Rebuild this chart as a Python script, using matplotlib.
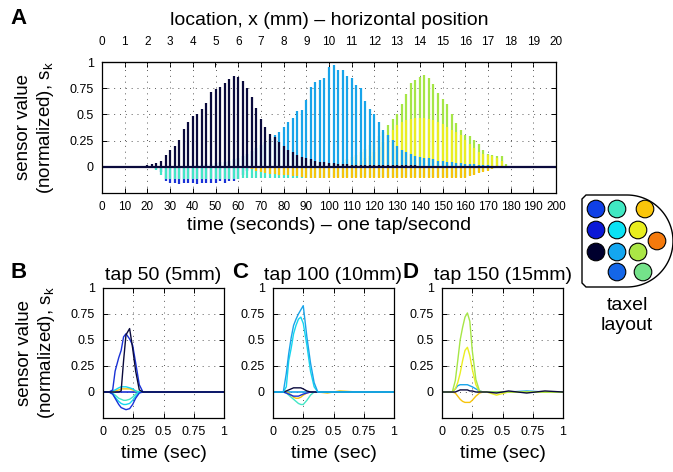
import numpy as np
import matplotlib
matplotlib.use("Agg")
import matplotlib.pyplot as plt
from matplotlib.patches import Circle, Polygon

plt.rcParams['font.family'] = ['Liberation Sans', 'DejaVu Sans']
plt.rcParams['mathtext.fontset'] = 'custom'
plt.rcParams['mathtext.rm'] = 'Liberation Sans'
plt.rcParams['mathtext.it'] = 'Liberation Sans'

# ---------------- data: panel A (peak value of each tap, every 2nd tap) ----------------
tap_times = np.arange(0, 200, 2)

navy_peak = ([0.01] * 10 +
             [0.02, 0.03, 0.04, 0.06, 0.11, 0.16, 0.20, 0.26, 0.36, 0.43,
              0.48, 0.50, 0.55, 0.61, 0.71, 0.74, 0.76, 0.80, 0.84, 0.87] +
             [0.86, 0.82, 0.75, 0.67, 0.56, 0.46, 0.38, 0.31, 0.28, 0.24,
              0.20, 0.16, 0.14, 0.11, 0.09, 0.08, 0.07, 0.06, 0.05, 0.05] +
             [0.04, 0.04, 0.03, 0.03, 0.03] + [0.02] * 15 +
             [0.01] * 30)

lightblue_peak = ([0.01] * 20 +
                  [0.01, 0.02, 0.02, 0.03, 0.03, 0.04, 0.05, 0.05, 0.06, 0.07,
                   0.08, 0.10, 0.12, 0.15, 0.18, 0.21, 0.24, 0.27, 0.30, 0.33] +
                  [0.38, 0.43, 0.47, 0.53, 0.54, 0.64, 0.76, 0.81, 0.83, 0.85,
                   0.95, 0.97, 0.92, 0.92, 0.87, 0.85, 0.78, 0.75, 0.63, 0.55] +
                  [0.50, 0.43, 0.35, 0.30, 0.26, 0.20, 0.16, 0.14, 0.12, 0.10,
                   0.09, 0.08, 0.08, 0.07, 0.06, 0.06, 0.05, 0.05, 0.04, 0.04] +
                  [0.03, 0.03, 0.03, 0.02, 0.02, 0.02] + [0.01] * 14)

green_peak = ([0.0] * 30 + [0.01] * 20 +
              [0.02, 0.03, 0.04, 0.05, 0.07, 0.09, 0.11, 0.14, 0.17, 0.21,
               0.25, 0.29, 0.33, 0.40, 0.46, 0.50, 0.60, 0.69, 0.80, 0.83] +
              [0.86, 0.88, 0.85, 0.79, 0.70, 0.65, 0.60, 0.50, 0.42, 0.35,
               0.30, 0.29, 0.26, 0.22, 0.16, 0.12, 0.11, 0.10, 0.10, 0.03] +
              [0.01] * 10)

yellow_peak = ([0.0] * 35 + [0.01] * 20 +
               [0.02, 0.04, 0.06, 0.08, 0.10, 0.14, 0.19, 0.24, 0.30, 0.35,
                0.40, 0.43, 0.45, 0.46, 0.47, 0.47, 0.47, 0.46, 0.45, 0.43] +
               [0.41, 0.38, 0.35, 0.33, 0.30, 0.26, 0.22, 0.18, 0.14, 0.12,
                0.11, 0.10, 0.08, 0.06] + [0.01] * 11)

blue_neg = ([0.0] * 12 +
            [-0.02, -0.05, -0.14, -0.15, -0.15, -0.16, -0.15, -0.15, -0.15, -0.16, -0.15,
             -0.15, -0.15, -0.15, -0.14, -0.15, -0.14, -0.14, -0.12, -0.08, -0.04, -0.02] +
            [0.0] * 66)

turq_neg = ([0.0] * 11 + [-0.01, -0.03, -0.08, -0.12] + [-0.12] * 16 +
            [-0.11] * 19 + [-0.10] * 31 +
            [-0.08, -0.07, -0.05, -0.04, -0.03, -0.02] + [0.0] * 13)

gold_neg = ([0.0] * 32 +
            [-0.01, -0.02, -0.04, -0.05, -0.06, -0.07, -0.07, -0.08, -0.08, -0.08,
             -0.09, -0.09, -0.10] + [-0.11] * 36 +
            [-0.09, -0.08, -0.06, -0.05, -0.04, -0.02, -0.01] + [0.0] * 12)

mm_ticks = list(range(0, 21))
time_ticks = list(range(0, 201, 10))
y_ticks = [0, 0.25, 0.5, 0.75, 1]
y_ticklabels = ['0', '0.25', '0.5', '0.75', '1']
small_x_ticklabels = ['0', '0.25', '0.5', '0.75', '1']

# ---------------- data: panels B, C, D (single tap responses) ----------------
b_time = [0, 0.05, 0.08, 0.10, 0.13, 0.15, 0.17, 0.19, 0.22, 0.245, 0.27, 0.30, 0.33,
          0.40, 0.50, 0.60, 0.70, 0.80, 0.90, 1.00]
b_navy = [0, 0, 0, 0, 0, 0.01, 0.30, 0.55, 0.61, 0.42, 0.20, 0.02, 0,
          0, 0, 0, 0, 0, 0, 0]
b_blue = [0, 0, 0.02, 0.20, 0.33, 0.40, 0.53, 0.56, 0.51, 0.45, 0.28, 0.07, 0,
          0, 0, 0, 0, 0, 0, 0]
b_blue_neg = [0, 0, -0.02, -0.06, -0.12, -0.15, -0.16, -0.17, -0.16, -0.12, -0.06, -0.01, 0,
              0, 0, 0, 0, 0, 0, 0]
b_cyan_neg = [0, 0, -0.02, -0.05, -0.09, -0.11, -0.12, -0.12, -0.11, -0.08, -0.04, 0, 0,
              0, 0, 0, 0, 0, 0, 0]
b_turq_neg = [0, 0, -0.01, -0.03, -0.06, -0.07, -0.08, -0.08, -0.07, -0.05, -0.02, 0, 0,
              0, 0, 0, 0, 0, 0, 0]
b_gold_pos = [0, 0, 0, 0.01, 0.02, 0.03, 0.03, 0.03, 0.03, 0.02, 0.01, 0, 0,
              0, 0, 0, 0, 0, 0, 0]
b_lightblue_pos = [0, 0, 0.01, 0.02, 0.04, 0.05, 0.05, 0.05, 0.04, 0.03, 0.01, 0, 0,
                   0, 0, 0, 0, 0, 0, 0]

cd_time = [0, 0.05, 0.085, 0.11, 0.13, 0.15, 0.17, 0.19, 0.21, 0.23, 0.25, 0.28, 0.31,
           0.34, 0.37, 0.45, 0.55, 0.70, 0.85, 1.00]
c_lightblue = [0, 0, 0, 0.18, 0.37, 0.52, 0.64, 0.70, 0.75, 0.79, 0.83, 0.53, 0.28,
               0.09, 0, 0, 0, 0, 0, 0]
c_cyan = [0, 0, 0, 0.05, 0.30, 0.42, 0.56, 0.64, 0.70, 0.72, 0.66, 0.45, 0.20,
          0.05, 0, 0, 0, 0, 0, 0]
c_turq_neg = [0, 0, 0, -0.01, -0.03, -0.05, -0.07, -0.09, -0.11, -0.12, -0.12, -0.08, -0.03,
              0, 0, 0, 0, 0, 0, 0]
c_navy = [0, 0, 0, 0.01, 0.02, 0.03, 0.04, 0.04, 0.04, 0.04, 0.03, 0.01, 0,
          0, 0, 0, 0, 0, 0, 0]
c_blue_neg = [0, 0, 0, -0.01, -0.02, -0.03, -0.04, -0.04, -0.04, -0.03, -0.02, -0.01, 0,
              0, 0, 0, 0, 0, 0, 0]
c_gold_neg = [0, 0, 0, 0, -0.01, -0.03, -0.05, -0.06, -0.06, -0.05, -0.03, -0.01, 0,
              0, 0, -0.01, 0.01, 0, 0, 0]

d_green = [0, 0, 0, 0.11, 0.30, 0.50, 0.62, 0.72, 0.76, 0.68, 0.40, 0.12, 0.01,
           0, 0, 0, 0, 0, 0, 0]
d_yellow = [0, 0, 0, 0.03, 0.09, 0.18, 0.30, 0.40, 0.43, 0.35, 0.22, 0.07, 0,
            0, 0, -0.03, 0, 0, 0, 0]
d_cyan = [0, 0, 0, 0.03, 0.06, 0.07, 0.07, 0.07, 0.07, 0.06, 0.05, 0.03, 0.01,
          0, 0, 0, 0, 0.01, 0, 0]
d_gold_neg = [0, 0, 0, -0.01, -0.04, -0.07, -0.09, -0.10, -0.10, -0.10, -0.08, -0.04, -0.01,
              0, 0, 0, 0, 0, 0, 0]
d_navy = [0, 0, 0, 0, 0.01, 0.02, 0.02, 0.02, 0.02, 0.01, 0.01, 0, 0,
          0, 0, -0.01, 0.01, -0.01, 0.01, 0]

# ---------------- colours ----------------
NAVY = '#0a0a3c'
LIGHTBLUE = '#18a4ea'
GREEN = '#a6e646'
YELLOW = '#eaee22'
BLUE = '#1a32d6'
TURQ = '#44e6c6'
CYAN = '#14d6ee'
GOLD = '#f6c40c'

W, H = 673, 472
fig = plt.figure(figsize=(W / 100, H / 100), dpi=100)


def rect(x0, y0, x1, y1):
    return [x0 / W, 1 - y1 / H, (x1 - x0) / W, (y1 - y0) / H]


def style_axes(ax):
    for s in ax.spines.values():
        s.set_linewidth(0.9)
        s.set_color('black')
    ax.tick_params(direction='in', length=3.5, width=0.7, top=True, right=True,
                   labelsize=9, pad=6)
    ax.grid(True, color='0.35', linestyle=(0, (1, 5)), linewidth=0.7)
    ax.set_axisbelow(True)


YLABEL = 'sensor value\n(normalized), $\\mathregular{s_k}$'

# ---------------- panel A ----------------
axA = fig.add_axes(rect(102, 62, 556, 193))
style_axes(axA)
axA.tick_params(top=False)
axA.set_xlim(0, 200)
axA.set_ylim(-0.25, 1)
axA.set_xticks(time_ticks)
axA.set_xticklabels([str(t) for t in time_ticks], fontsize=8.5)
axA.set_yticks(y_ticks)
axA.set_yticklabels(y_ticklabels)

bar_lw = 1.6
axA.vlines(tap_times, 0, turq_neg, color=TURQ, lw=bar_lw, zorder=2)
axA.vlines(tap_times, 0, gold_neg, color=GOLD, lw=bar_lw, zorder=2)
axA.vlines(tap_times, 0, blue_neg, color=BLUE, lw=bar_lw, zorder=1.9)
axA.vlines(tap_times, 0, green_peak, color=GREEN, lw=bar_lw, zorder=2)
axA.vlines(tap_times, 0, yellow_peak, color=YELLOW, lw=bar_lw, zorder=2.1)
axA.vlines(tap_times, 0, lightblue_peak, color=LIGHTBLUE, lw=bar_lw, zorder=2.2)
axA.vlines(tap_times, 0, navy_peak, color=NAVY, lw=bar_lw, zorder=2.3)
axA.axhline(0, color=NAVY, lw=1.6, zorder=2.4)
axA.set_xlabel('time (seconds) – one tap/second', fontsize=14, labelpad=3)

secA = axA.secondary_xaxis('top', functions=(lambda x: x / 10, lambda x: x * 10))
secA.set_xticks(mm_ticks)
secA.set_xticklabels([str(m) for m in mm_ticks], fontsize=8.5)
secA.tick_params(direction='in', length=3.5, width=0.7, pad=10)
secA.set_xlabel('location, x (mm) – horizontal position', fontsize=14, labelpad=8)

axA.set_ylabel(YLABEL, fontsize=13.5, labelpad=10, linespacing=1.15)

# ---------------- panels B, C, D ----------------
def small_axes(x0, x1):
    ax = fig.add_axes(rect(x0, 288, x1, 418))
    style_axes(ax)
    ax.set_xlim(0, 1)
    ax.set_ylim(-0.25, 1)
    ax.set_xticks([0, 0.25, 0.5, 0.75, 1])
    ax.set_xticklabels(small_x_ticklabels)
    ax.set_yticks(y_ticks)
    ax.set_yticklabels(y_ticklabels)
    ax.set_xlabel('time (sec)', fontsize=14, labelpad=5)
    return ax


lw = 1.0
axB = small_axes(103, 224)
axB.plot(b_time, b_gold_pos, color=GOLD, lw=lw)
axB.plot(b_time, b_lightblue_pos, color=CYAN, lw=lw)
axB.plot(b_time, b_turq_neg, color=TURQ, lw=lw)
axB.plot(b_time, b_cyan_neg, color=CYAN, lw=lw)
axB.plot(b_time, b_blue_neg, color=BLUE, lw=lw)
axB.plot(b_time, b_blue, color=BLUE, lw=lw)
axB.plot(b_time, b_navy, color=NAVY, lw=lw)
axB.axhline(0, color=BLUE, lw=1.2, zorder=1.5)
axB.set_title('tap 50 (5mm)', fontsize=14, pad=6)
axB.set_ylabel(YLABEL, fontsize=13.5, labelpad=10, linespacing=1.15)

axC = small_axes(273, 394)
axC.plot(cd_time, c_gold_neg, color=GOLD, lw=lw)
axC.plot(cd_time, c_turq_neg, color=TURQ, lw=lw)
axC.plot(cd_time, c_blue_neg, color=BLUE, lw=lw)
axC.plot(cd_time, c_navy, color=NAVY, lw=lw)
axC.plot(cd_time, c_cyan, color=CYAN, lw=lw)
axC.plot(cd_time, c_lightblue, color=LIGHTBLUE, lw=lw)
axC.axhline(0, color=LIGHTBLUE, lw=1.2, zorder=1.5)
axC.set_title('tap 100 (10mm)', fontsize=14, pad=6)

axD = small_axes(442, 563)
axD.plot(cd_time, d_gold_neg, color=GOLD, lw=lw)
axD.plot(cd_time, d_cyan, color=LIGHTBLUE, lw=lw)
axD.plot(cd_time, d_yellow, color=YELLOW, lw=lw)
axD.plot(cd_time, d_green, color=GREEN, lw=lw)
axD.plot(cd_time, d_navy, color=NAVY, lw=lw)
axD.set_title('tap 150 (15mm)', fontsize=14, pad=6)

# ---------------- panel letters ----------------
for letter, x, y in [('A', 10, 19), ('B', 10, 272), ('C', 232, 272), ('D', 402, 272)]:
    fig.text(x / W, 1 - y / H, letter, fontsize=16, fontweight='bold', va='center', ha='left')

# ---------------- taxel layout ----------------
lay = fig.add_axes([0, 0, 1, 1], zorder=5)
lay.set_xlim(0, W)
lay.set_ylim(H, 0)
lay.axis('off')
lay.patch.set_alpha(0)

cx, cy, r = 627, 241, 46
ang = np.linspace(-np.pi / 2, np.pi / 2, 60)
outline = [(cx, cy - r), (586, cy - r), (582, cy - r + 4), (582, cy + r - 4), (586, cy + r), (cx, cy + r)]
outline += [(cx + r * np.cos(a), cy - r * np.sin(a)) for a in ang]
lay.add_patch(Polygon(outline, closed=True, facecolor='white', edgecolor='black', lw=1.0))

taxels = [
    (596, 209, '#0f40e6'), (617, 209, '#40e8c2'), (645, 209, '#fac60a'),
    (596, 230, '#0a18d6'), (617, 230, '#0ae2f4'), (638, 230, '#e8ee1e'),
    (596, 252, '#00002e'), (617, 252, '#14a6f0'), (638, 252, '#aae646'),
    (617, 272, '#1466e8'), (643, 272, '#74e28a'),
    (657, 241, '#f57a0c'),
]
for x, y, c in taxels:
    lay.add_patch(Circle((x, y), 8.8, facecolor=c, edgecolor='black', lw=0.8))

lay.text(627, 306, 'taxel', fontsize=14, ha='center', va='center')
lay.text(627, 326, 'layout', fontsize=14, ha='center', va='center')

fig.savefig('out.png', dpi=100)
